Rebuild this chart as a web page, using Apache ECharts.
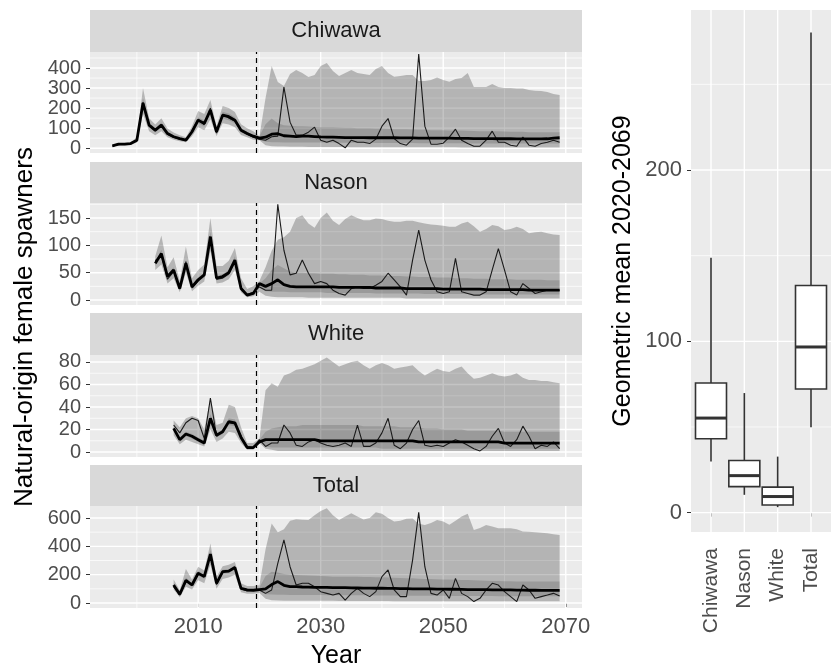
<!DOCTYPE html>
<html lang="en">
<head>
<meta charset="UTF-8">
<title>Natural-origin female spawners</title>
<script src="https://cdn.jsdelivr.net/npm/echarts@6/dist/echarts.min.js"></script>
<style>
    html, body {
        margin: 0;
        padding: 0;
        background: #fff;
        overflow: hidden;
    }
    #main { width: 831px; height: 669px; }
</style>
</head>
<body>
<div id="main"></div>
<script>
    // first year of each population series (one value per year after that)
    var chiStart = 1996, nasStart = 2003, whiStart = 2006, totStart = 2006;

    // ---- Chiwawa (1996-2019 observed, 2020-2069 projected)
    var chiMed = [12,20,20,23,40,225,115,90,115,73,57,48,40,82,140,123,190,82,165,157,140,90,73,60,
        50,55,70,72,62,60,58,60,60,58,56,55,55,54,53,53,53,53,52,52,52,52,52,51,51,51,50,50,50,50,
        50,50,49,49,49,48,48,48,48,47,47,47,46,46,46,46,46,47,50,52];
    var chiTraj = [10,18,22,22,38,230,112,85,118,70,55,45,38,85,145,118,200,75,170,150,135,88,70,55,
        45,40,57,60,305,130,65,65,80,105,40,30,40,23,2,40,30,30,23,45,110,148,48,23,15,45,470,110,20,20,
        25,55,95,40,23,10,10,40,85,30,30,15,10,55,15,10,23,30,40,30];
    var chiLo95 = [8,14,14,17,28,170,85,65,85,55,42,35,30,60,105,90,145,60,125,118,105,66,54,42,
        40,15,10,8,8,7,7,7,6,6,6,6,6,6,6,5,5,5,5,5,5,5,5,5,5,5,5,5,5,5,
        5,5,5,4,4,4,4,4,4,4,4,4,4,4,4,4,4,4,4,4];
    var chiHi95 = [16,26,26,30,55,300,150,118,150,98,78,65,55,110,185,170,240,110,210,200,180,120,100,85,
        60,250,410,330,310,370,390,375,355,365,410,425,385,360,375,390,375,370,365,395,410,375,357,360,365,365,335,335,340,353,
        340,332,345,350,375,305,305,305,320,305,300,300,298,298,290,287,285,280,270,265];
    var chiLo50 = [10,18,18,20,35,200,102,80,102,64,50,42,35,72,125,108,170,72,148,140,125,80,64,53,
        42,32,30,30,29,29,29,28,28,28,28,28,28,27,27,27,27,27,27,26,26,26,26,26,26,26,25,25,25,25,
        25,25,25,25,24,24,24,24,24,24,24,24,24,24,24,24,24,24,24,24];
    var chiHi50 = [14,22,22,26,45,250,128,100,128,82,64,54,45,92,155,138,210,92,182,173,155,100,82,67,
        60,120,148,125,115,112,110,110,108,106,105,105,104,103,102,102,100,100,100,98,98,97,95,95,94,93,92,92,90,90,
        90,88,88,88,87,86,85,85,85,84,83,82,82,82,80,80,80,80,80,80];

    // ---- Nason (2003-2069)
    var nasMed = [67,85,43,55,21,67,24,37,46,116,40,43,50,73,21,9,12,
        30,25,30,37,28,25,24,24,24,24,24,24,24,23,23,23,23,23,23,22,22,22,22,22,21,21,21,21,21,21,
        20,20,20,20,20,20,20,19,19,19,19,19,19,19,18,18,18,18,18,18];
    var nasTraj = [72,82,38,52,20,70,22,35,48,112,38,40,48,70,22,10,14,
        24,18,18,175,91,46,49,73,49,30,34,30,18,12,9,21,24,21,21,27,34,49,37,24,9,73,128,73,37,15,
        12,15,76,15,12,9,9,15,55,94,55,15,9,30,21,12,15,18,18,18];
    var nasLo95 = [55,65,30,40,14,50,16,26,34,90,30,32,38,55,14,5,7,
        15,8,6,5,5,5,5,5,4,4,4,4,4,4,4,4,4,4,4,4,4,4,4,4,3,3,3,3,3,3,
        3,3,3,3,3,3,3,3,3,3,3,3,3,3,3,3,3,3,3,3];
    var nasHi95 = [80,118,60,78,35,98,40,55,65,150,62,62,72,95,40,20,25,
        35,60,90,110,115,125,150,155,140,132,150,160,145,137,148,155,150,146,146,149,148,145,143,143,145,145,142,140,138,137,
        136,134,134,140,143,135,125,130,137,135,128,130,134,130,122,124,125,122,120,119];
    var nasLo50 = [62,78,39,50,18,61,21,33,42,107,36,39,45,66,18,7,10,
        25,16,15,15,15,14,14,14,14,14,14,13,13,13,13,13,13,13,13,12,12,12,12,12,12,12,12,11,11,11,
        11,11,11,11,11,11,10,10,10,10,10,10,10,10,10,10,10,10,10,10];
    var nasHi50 = [70,92,47,60,24,73,27,41,50,125,44,47,55,80,24,11,14,
        30,40,55,64,58,52,50,50,49,49,48,48,48,47,47,46,46,46,45,45,45,44,44,44,43,43,42,42,42,41,
        41,41,40,40,40,39,39,39,38,38,38,38,37,37,37,37,37,36,36,36];

    // ---- White (2006-2069)
    var whiMed = [21,11,16,14,11,8,30,15,18,27,26,13,4,4,
        9,11,11,11,11,11,11,11,11,11,10,10,10,10,10,10,10,10,10,10,10,10,10,10,10,10,9,9,9,9,
        9,9,9,9,9,9,9,9,9,9,8,8,8,8,8,8,8,8,8,8];
    var whiTraj = [24,17,26,30,28,12,48,14,19,26,25,14,5,4,
        11,5,8,8,24,17,6,5,9,11,8,6,5,6,8,5,24,5,5,8,17,30,6,3,8,20,28,6,5,6,
        5,8,11,9,6,3,1,5,14,21,8,5,11,23,14,3,6,5,9,3];
    var whiLo95 = [15,7,11,9,7,5,20,9,12,18,17,8,2,2,
        8,3,2,1,1,1,1,1,1,1,1,1,1,1,1,1,1,1,1,1,1,1,1,1,1,1,1,1,1,1,
        1,1,1,1,1,1,1,1,1,1,1,1,1,1,1,1,1,1,1,1];
    var whiHi95 = [28,22,30,32,30,20,48,24,26,42,40,22,8,8,
        12,55,61,58,68,70,73,74,76,78,81,84,80,76,78,80,81,77,74,77,79,77,74,75,76,77,72,68,71,74,
        72,71,74,76,70,65,66,68,70,68,67,68,70,66,64,64,63,63,62,61];
    var whiLo50 = [19,9,14,12,9,6,26,13,16,24,23,11,3,3,
        9,5,4,4,4,4,4,4,4,4,4,4,4,4,4,4,4,4,4,4,3,3,3,3,3,3,3,3,3,3,
        3,3,3,3,3,3,3,3,3,3,3,3,3,3,3,3,3,3,3,3];
    var whiHi50 = [23,13,18,16,13,10,34,17,20,30,29,15,5,5,
        11,18,21,22,23,23,23,24,24,24,24,24,24,24,24,24,24,23,23,23,23,23,23,22,22,22,22,21,21,21,
        20,20,20,20,19,19,19,19,19,19,18,18,18,18,18,18,18,18,18,18];

    // ---- Total (2006-2069)
    var totMed = [127,62,160,127,210,186,345,139,221,225,250,103,92,90,
        95,100,130,151,125,115,115,113,112,110,110,110,109,108,108,107,106,105,105,104,104,103,103,102,101,100,100,99,99,98,
        98,97,97,96,95,95,94,94,93,93,92,92,91,91,90,90,89,89,89,89];
    var totTraj = [115,55,150,135,205,195,340,130,215,230,255,100,85,88,
        92,68,92,280,445,256,127,139,139,115,80,68,56,68,21,68,103,68,45,80,186,233,92,45,45,303,640,256,68,56,
        92,33,174,68,45,10,33,92,139,127,80,45,10,127,92,33,45,56,68,50];
    var totLo95 = [95,40,115,95,160,140,270,100,170,180,200,75,65,65,
        70,30,20,18,16,16,15,15,15,15,15,15,15,14,14,14,14,14,14,14,14,14,13,13,13,13,13,13,13,13,
        13,13,12,12,12,12,12,12,12,12,12,12,12,12,12,12,12,12,12,12];
    var totHi95 = [165,90,240,165,255,230,420,185,260,270,290,140,120,120,
        125,380,562,500,520,580,592,588,585,620,650,668,620,585,610,633,610,590,600,640,630,600,575,580,595,597,560,550,565,585,
        575,552,580,610,630,515,530,550,540,527,527,527,520,505,503,500,495,492,485,480];
    var totLo50 = [115,55,145,115,195,172,320,128,208,212,237,95,85,83,
        85,62,60,58,58,57,57,56,56,56,56,55,55,55,55,54,54,54,54,53,53,53,53,52,52,52,52,51,51,51,
        51,50,50,50,50,49,49,49,49,48,48,48,48,47,47,47,47,47,47,47];
    var totHi50 = [140,70,180,140,228,200,375,150,235,240,265,112,100,98,
        110,190,221,215,205,200,198,196,194,192,190,188,186,186,186,185,185,184,183,182,182,180,178,176,175,174,172,170,170,168,
        166,165,164,162,162,160,158,157,156,155,154,153,152,152,151,151,151,151,151,151];

    // year axis ticks and the start of projections
    var yearTicks = [2010, 2030, 2050, 2070];
    var yearMinor = [2000, 2020, 2040, 2060];
    var projStart = 2019.5;

    // geometric mean 2020-2069: [lower whisker, Q1, median, Q3, upper whisker]
    var boxCats = ['Chiwawa', 'Nason', 'White', 'Total'];
    var boxStats = [
        [29.8, 43.1, 55.2, 75.7, 148.8],
        [10.4, 15.2, 21.6, 30.4, 69.8],
        [3.2, 4.5, 9.4, 14.9, 32.7],
        [49.9, 72.2, 96.7, 132.6, 280.3]
    ];
    var boxTicks = [0, 100, 200];
    var boxMinor = [50, 150, 250];

    var panels = [
        {name: 'Chiwawa', start: chiStart, med: chiMed, traj: chiTraj, lo95: chiLo95, hi95: chiHi95, lo50: chiLo50, hi50: chiHi50,
            min: -24, max: 480, ticks: [0, 100, 200, 300, 400], minor: [50, 150, 250, 350, 450], top: 52, height: 101, strip: 10},
        {name: 'Nason', start: nasStart, med: nasMed, traj: nasTraj, lo95: nasLo95, hi95: nasHi95, lo50: nasLo50, hi50: nasHi50,
            min: -9.1, max: 177.4, ticks: [0, 50, 100, 150], minor: [25, 75, 125, 175], top: 203, height: 102, strip: 162},
        {name: 'White', start: whiStart, med: whiMed, traj: whiTraj, lo95: whiLo95, hi95: whiHi95, lo50: whiLo50, hi50: whiHi50,
            min: -4.4, max: 86.2, ticks: [0, 20, 40, 60, 80], minor: [10, 30, 50, 70], top: 355, height: 102, strip: 313},
        {name: 'Total', start: totStart, med: totMed, traj: totTraj, lo95: totLo95, hi95: totHi95, lo50: totLo50, hi50: totHi50,
            min: -35.3, max: 684.7, ticks: [0, 200, 400, 600], minor: [100, 300, 500], top: 506, height: 102, strip: 465}
    ];

    var FONT = '"Liberation Sans", Arial, sans-serif';
    var grids = [], xAxes = [], yAxes = [], series = [], graphics = [];

    function pairs(start, arr) {
        return arr.map(function (v, k) { return [start + k, v]; });
    }
    // white panel grid lines: [direction (0 = horizontal), value, width]
    function gridSeries(i, hMajor, hMinor, vMajor, vMinor, xRef, yRef) {
        var items = [];
        hMajor.forEach(function (v) { items.push([0, v, 1.4]); });
        hMinor.forEach(function (v) { items.push([0, v, 0.7]); });
        vMajor.forEach(function (v) { items.push([1, v, 1.4]); });
        vMinor.forEach(function (v) { items.push([1, v, 0.7]); });
        return {
            type: 'custom', xAxisIndex: i, yAxisIndex: i, silent: true, clip: false,
            data: items,
            renderItem: function (params, api) {
                var cs = params.coordSys;
                var dir = api.value(0), v = api.value(1), w = api.value(2);
                if (dir === 0) {
                    var y = api.coord([xRef, v])[1];
                    return {type: 'line', shape: {x1: cs.x, y1: y, x2: cs.x + cs.width, y2: y},
                        style: {stroke: '#ffffff', lineWidth: w}};
                }
                var x = api.coord([v, yRef])[0];
                return {type: 'line', shape: {x1: x, y1: cs.y, x2: x, y2: cs.y + cs.height},
                    style: {stroke: '#ffffff', lineWidth: w}};
            }
        };
    }
    // ribbon between lo and hi, drawn as one polygon through the axis scales
    function band(i, start, lo, hi, color) {
        return {
            type: 'custom', xAxisIndex: i, yAxisIndex: i, silent: true, clip: true,
            data: lo.map(function (v, k) { return [start + k, v, hi[k]]; }),
            encode: {x: 0, y: [1, 2]},
            renderItem: function (params, api) {
                if (params.dataIndex !== 0) return null;
                var pts = [], k;
                for (k = 0; k < hi.length; k++) pts.push(api.coord([start + k, hi[k]]));
                for (k = lo.length - 1; k >= 0; k--) pts.push(api.coord([start + k, lo[k]]));
                return {type: 'polygon', shape: {points: pts}, style: {fill: color, stroke: null}};
            }
        };
    }

    panels.forEach(function (p, i) {
        var last = i === panels.length - 1;
        grids.push({left: 90, width: 492, top: p.top, height: p.height, show: true, backgroundColor: '#ebebeb', borderWidth: 0});
        xAxes.push({
            type: 'value', gridIndex: i, min: 1992.35, max: 2072.65,
            axisLine: {show: false}, splitLine: {show: false},
            axisTick: {show: last, customValues: yearTicks, length: 4, lineStyle: {color: '#333'}},
            axisLabel: {show: last, customValues: yearTicks, fontSize: 22, color: '#4d4d4d', margin: 8, fontFamily: FONT,
                interval: 0, formatter: function (v) { return String(v); }}
        });
        yAxes.push({
            type: 'value', gridIndex: i, min: p.min, max: p.max,
            axisLine: {show: false}, splitLine: {show: false},
            axisTick: {show: true, customValues: p.ticks, length: 4, lineStyle: {color: '#333'}},
            axisLabel: {customValues: p.ticks, fontSize: 20, color: '#4d4d4d', margin: 9, fontFamily: FONT,
                interval: 0, showMinLabel: true, showMaxLabel: true, hideOverlap: false}
        });

        series.push(gridSeries(i, p.ticks, p.minor, yearTicks, yearMinor, 2000, 0));
        series.push(band(i, p.start, p.lo95, p.hi95, 'rgba(0,0,0,0.23)'));
        series.push(band(i, p.start, p.lo50, p.hi50, 'rgba(0,0,0,0.14)'));

        series.push({
            type: 'line', xAxisIndex: i, yAxisIndex: i, symbol: 'none', showSymbol: false, silent: true,
            data: pairs(p.start, p.traj), lineStyle: {color: '#1a1a1a', width: 1.1}
        });
        series.push({
            type: 'line', xAxisIndex: i, yAxisIndex: i, symbol: 'none', showSymbol: false, silent: true,
            data: pairs(p.start, p.med), lineStyle: {color: '#000', width: 2.8},
            markLine: {
                silent: true, symbol: 'none', label: {show: false},
                lineStyle: {color: '#000', type: [5, 4], width: 1.2},
                data: [{xAxis: projStart}]
            }
        });

        graphics.push({type: 'rect', shape: {x: 90, y: p.strip, width: 492, height: p.top - p.strip},
            style: {fill: '#d9d9d9'}});
        graphics.push({type: 'text', x: 336, y: p.strip + (p.top - p.strip) / 2,
            style: {text: p.name, fontSize: 22, fontFamily: FONT, fill: '#1a1a1a', align: 'center', verticalAlign: 'middle'}});
    });

    // boxplot panel (categories placed at 1..4, ggplot-like 0.6 padding)
    var bi = panels.length;
    grids.push({left: 691, width: 149, top: 10, height: 522, show: true, backgroundColor: '#ebebeb', borderWidth: 0});
    xAxes.push({
        type: 'value', gridIndex: bi, min: 0.4, max: 4.6,
        axisLine: {show: false}, splitLine: {show: false},
        axisTick: {show: true, customValues: [1, 2, 3, 4], length: 4, lineStyle: {color: '#333'}},
        axisLabel: {customValues: [1, 2, 3, 4], rotate: 90, fontSize: 21, color: '#4d4d4d', margin: 16, fontFamily: FONT,
            interval: 0, formatter: function (v) { return boxCats[v - 1]; }}
    });
    yAxes.push({
        type: 'value', gridIndex: bi, min: -11.3, max: 293.4,
        axisLine: {show: false}, splitLine: {show: false},
        axisTick: {show: true, customValues: boxTicks, length: 4, lineStyle: {color: '#333'}},
        axisLabel: {customValues: boxTicks, fontSize: 22, color: '#4d4d4d', margin: 9, fontFamily: FONT, interval: 0}
    });
    series.push(gridSeries(bi, boxTicks, boxMinor, [1, 2, 3, 4], [], 1, 0));
    series.push({
        type: 'custom', xAxisIndex: bi, yAxisIndex: bi, silent: true,
        data: boxStats.map(function (s, k) { return [k + 1].concat(s); }),
        encode: {x: 0, y: [1, 2, 3, 4, 5]},
        renderItem: function (params, api) {
            var x = api.value(0);
            var lo = api.coord([x, api.value(1)]);
            var q1 = api.coord([x, api.value(2)]);
            var md = api.coord([x, api.value(3)]);
            var q3 = api.coord([x, api.value(4)]);
            var hi = api.coord([x, api.value(5)]);
            var w = api.size([0.93, 0])[0];
            var st = {stroke: '#333333', lineWidth: 1.6, fill: null};
            return {type: 'group', children: [
                {type: 'line', shape: {x1: hi[0], y1: hi[1], x2: q3[0], y2: q3[1]}, style: st},
                {type: 'line', shape: {x1: q1[0], y1: q1[1], x2: lo[0], y2: lo[1]}, style: st},
                {type: 'rect', shape: {x: q3[0] - w / 2, y: q3[1], width: w, height: q1[1] - q3[1]},
                    style: {fill: '#ffffff', stroke: '#333333', lineWidth: 1.6}},
                {type: 'line', shape: {x1: md[0] - w / 2, y1: md[1], x2: md[0] + w / 2, y2: md[1]},
                    style: {stroke: '#333333', lineWidth: 3, fill: null}}
            ]};
        }
    });

    // axis titles
    graphics.push({type: 'text', x: 336, y: 656,
        style: {text: 'Year', fontSize: 25, fontFamily: FONT, fill: '#000', align: 'center', verticalAlign: 'middle'}});
    graphics.push({type: 'text', x: 25, y: 327, rotation: Math.PI / 2,
        style: {text: 'Natural-origin female spawners', fontSize: 26, fontFamily: FONT, fill: '#000', align: 'center', verticalAlign: 'middle'}});
    graphics.push({type: 'text', x: 623, y: 271, rotation: Math.PI / 2,
        style: {text: 'Geometric mean 2020-2069', fontSize: 25, fontFamily: FONT, fill: '#000', align: 'center', verticalAlign: 'middle'}});

    var myChart = echarts.init(document.getElementById('main'), null, {renderer: 'canvas'});
    myChart.setOption({
        animation: false,
        backgroundColor: '#ffffff',
        textStyle: {fontFamily: FONT},
        grid: grids,
        xAxis: xAxes,
        yAxis: yAxes,
        series: series,
        graphic: {elements: graphics}
    });
</script>
</body>
</html>
